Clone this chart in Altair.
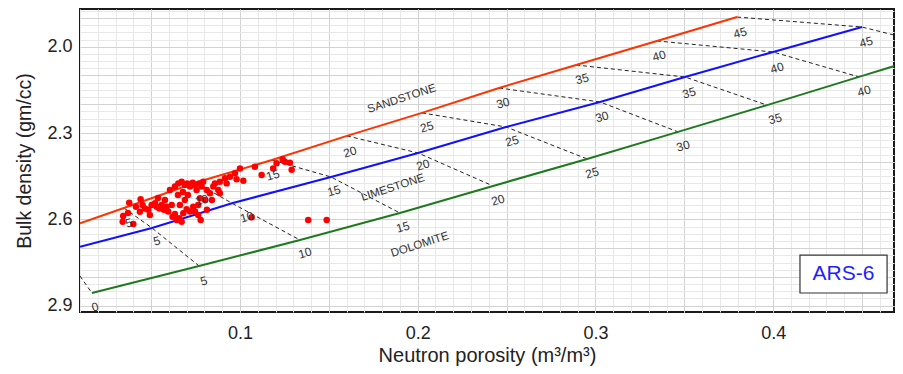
import altair as alt
import pandas as pd

# ---- lithology curves (neutron porosity m3/m3, bulk density g/cc) ----
ss_p = [0.010, 0.0347, 0.0752, 0.118, 0.1602, 0.2024, 0.2458, 0.2891, 0.3346, 0.3797]
ss_d = [2.614, 2.5605, 2.472, 2.394, 2.310, 2.230, 2.1435, 2.0636, 1.980, 1.897]
ls_p = [0.010, 0.0505, 0.0955, 0.1512, 0.2002, 0.2497, 0.3026, 0.3504, 0.4000, 0.4500]
ls_d = [2.695, 2.630, 2.544, 2.4527, 2.3693, 2.279, 2.1921, 2.1053, 2.0184, 1.9316]
dol_p = [0.0167, 0.077, 0.1338, 0.190, 0.2424, 0.2953, 0.3465, 0.3966, 0.4483, 0.470]
dol_d = [2.856, 2.762, 2.672, 2.578, 2.484, 2.390, 2.296, 2.203, 2.105, 2.0636]

# ends of the iso-porosity lines that leave the frame
iso0_start = [0.010, 2.797]
iso45_end = [0.4703, 1.963]

# ---- porosity labels along the curves ----
ss_lab = ["5", "10", "15", "20", "25", "30", "35", "40", "45"]
ss_lab_p = [0.0375, 0.0786, 0.1185, 0.1619, 0.2052, 0.2480, 0.2925, 0.3358, 0.3814]
ss_lab_d = [2.613, 2.533, 2.446, 2.366, 2.279, 2.196, 2.112, 2.032, 1.952]
ls_lab = ["5", "10", "15", "20", "25", "30", "35", "40", "45"]
ls_lab_p = [0.0533, 0.1039, 0.1529, 0.2030, 0.2531, 0.3037, 0.3527, 0.4022, 0.4523]
ls_lab_d = [2.675, 2.592, 2.501, 2.411, 2.328, 2.244, 2.161, 2.074, 1.984]
dol_lab = ["0", "5", "10", "15", "20", "25", "30", "35", "40"]
dol_lab_p = [0.0185, 0.0797, 0.1366, 0.1917, 0.2452, 0.2981, 0.3493, 0.4011, 0.4512]
dol_lab_d = [2.905, 2.814, 2.717, 2.627, 2.533, 2.439, 2.345, 2.251, 2.154]

lith_names = ["SANDSTONE", "LIMESTONE", "DOLOMITE"]
lith_lab_p = [0.1911, 0.1861, 0.2013]
lith_lab_d = [2.182, 2.491, 2.689]

# ---- well data (ARS-6) ----
nphi = [0.0343, 0.0340, 0.0377, 0.0400, 0.0441, 0.0415, 0.0452, 0.0465, 0.0484, 0.0503,
        0.0522, 0.0531, 0.0546, 0.0559, 0.0572, 0.0587, 0.0596, 0.0616, 0.0621, 0.0634,
        0.0644, 0.0658, 0.0672, 0.0634, 0.0653, 0.0672, 0.0690, 0.0703, 0.0719, 0.0734,
        0.0747, 0.0756, 0.0771, 0.0784, 0.0793, 0.0775, 0.0765, 0.0737, 0.0719, 0.0700,
        0.0681, 0.0747, 0.0765, 0.0779, 0.0813, 0.0831, 0.0850, 0.0859, 0.0878, 0.0887,
        0.0916, 0.0925, 0.0944, 0.0972, 0.0981, 0.1000, 0.1019, 0.1084, 0.1122, 0.1187,
        0.1206, 0.1240, 0.1253, 0.1281, 0.1291, 0.1066, 0.1384, 0.1488,
        0.0578, 0.0651, 0.0707, 0.0803, 0.0814, 0.0842, 0.0662, 0.0493, 0.0437, 0.0370,
        0.0606, 0.0690, 0.0887, 0.0679, 0.0539]
rhob = [2.588, 2.608, 2.542, 2.616, 2.530, 2.556, 2.550, 2.562, 2.567, 2.550,
        2.544, 2.556, 2.562, 2.550, 2.567, 2.556, 2.573, 2.550, 2.591, 2.581,
        2.602, 2.596, 2.608, 2.486, 2.475, 2.469, 2.481, 2.475, 2.486, 2.473,
        2.481, 2.498, 2.475, 2.486, 2.469, 2.527, 2.550, 2.556, 2.573, 2.565,
        2.579, 2.573, 2.585, 2.602, 2.498, 2.509, 2.486, 2.475, 2.498, 2.469,
        2.457, 2.475, 2.452, 2.440, 2.461, 2.423, 2.466, 2.417, 2.446, 2.423,
        2.405, 2.391, 2.400, 2.403, 2.428, 2.593, 2.602, 2.602,
        2.533, 2.515, 2.515, 2.533, 2.567, 2.533, 2.550, 2.585, 2.574, 2.578,
        2.498, 2.533, 2.509, 2.505, 2.526]

well_name = "ARS-6"
box_p = [0.4151, 0.4641]
box_d = [2.724, 2.856]

# ---- grid / tick positions ----
minor_x = [round(0.01 * i, 2) for i in range(1, 47)]
major_x = [round(0.05 * i, 2) for i in range(1, 10)]
minor_y = [round(1.875 + 0.025 * i, 3) for i in range(0, 42)]
major_y = [round(1.9 + 0.1 * i, 1) for i in range(0, 11)]

# ---- tables ----
lith_rows = []
for name, ps, ds in zip(lith_names, [ss_p, ls_p, dol_p], [ss_d, ls_d, dol_d]):
    for k, (p, d) in enumerate(zip(ps, ds)):
        lith_rows.append({"lith": name, "p": p, "d": d, "k": k})
lith_df = pd.DataFrame(lith_rows)

dash_rows = [{"phi": 0, "k": 0, "p": iso0_start[0], "d": iso0_start[1]},
             {"phi": 0, "k": 1, "p": dol_p[0], "d": dol_d[0]}]
for i in range(1, 9):
    phi = 5 * i
    dash_rows += [{"phi": phi, "k": 0, "p": ss_p[i], "d": ss_d[i]},
                  {"phi": phi, "k": 1, "p": ls_p[i], "d": ls_d[i]},
                  {"phi": phi, "k": 2, "p": dol_p[i], "d": dol_d[i]}]
dash_rows += [{"phi": 45, "k": 0, "p": ss_p[9], "d": ss_d[9]},
              {"phi": 45, "k": 1, "p": ls_p[9], "d": ls_d[9]},
              {"phi": 45, "k": 2, "p": iso45_end[0], "d": iso45_end[1]}]
dash_df = pd.DataFrame(dash_rows)

lab_df = pd.DataFrame({
    "t": ss_lab + ls_lab + dol_lab,
    "p": ss_lab_p + ls_lab_p + dol_lab_p,
    "d": ss_lab_d + ls_lab_d + dol_lab_d,
})
lith_lab_df = pd.DataFrame({"t": lith_names, "p": lith_lab_p, "d": lith_lab_d})
pts_df = pd.DataFrame({"p": nphi, "d": rhob})
box_df = pd.DataFrame({"p": [box_p[0]], "p2": [box_p[1]], "d": [box_d[0]], "d2": [box_d[1]],
                       "pc": [(box_p[0] + box_p[1]) / 2], "dc": [(box_d[0] + box_d[1]) / 2],
                       "t": [well_name]})

FONT = "Liberation Sans"
xs = alt.Scale(domain=[0.01, 0.468], nice=False, zero=False, clamp=False)
ys = alt.Scale(domain=[1.869, 2.922], reverse=True, nice=False, zero=False)

minor_x_axis = alt.Axis(orient="top", values=minor_x, grid=True, gridColor="#e8e8e8", gridWidth=1,
                        labels=False, ticks=False, domain=False, title=None)
minor_y_axis = alt.Axis(orient="right", values=minor_y, grid=True, gridColor="#e8e8e8", gridWidth=1,
                        labels=False, ticks=False, domain=False, title=None)
major_x_axis = alt.Axis(orient="bottom", values=major_x, grid=True, gridColor="#d2d2d2", gridWidth=1,
                        ticks=False, tickSize=0, domain=False, labelOverlap=False, labelFlush=False,
                        labelExpr="(round(datum.value*100) % 10 == 0) ? format(datum.value, '.1f') : ''",
                        labelFontSize=18, labelPadding=12, labelColor="#222",
                        title="Neutron porosity (m³/m³)", titleFontSize=20, titleFontWeight="normal",
                        titlePadding=3, titleColor="#222")
major_y_axis = alt.Axis(orient="left", values=major_y, grid=True, gridColor="#d2d2d2", gridWidth=1,
                        ticks=False, tickSize=0, domain=False, labelOverlap=False, labelFlush=False,
                        labelExpr="indexof(['2.0','2.3','2.6','2.9'], format(datum.value, '.1f')) >= 0 ? format(datum.value, '.1f') : ''",
                        labelFontSize=18, labelPadding=8, labelColor="#222",
                        title="Bulk density (gm/cc)", titleFontSize=19.5, titleFontWeight="normal",
                        titlePadding=12, titleColor="#222")

dash = alt.Chart(dash_df).mark_line(color="#222222", strokeWidth=1, strokeDash=[4, 3], clip=True).encode(
    x=alt.X("p:Q", scale=xs, axis=minor_x_axis),
    y=alt.Y("d:Q", scale=ys, axis=minor_y_axis),
    detail="phi:N",
    order="k:Q",
)

lith = alt.Chart(lith_df).mark_line(strokeWidth=2, clip=True).encode(
    x=alt.X("p:Q", scale=xs, axis=major_x_axis),
    y=alt.Y("d:Q", scale=ys, axis=major_y_axis),
    color=alt.Color("lith:N", scale=alt.Scale(domain=lith_names, range=["#ff3300", "#1010ff", "#1e7a1e"]),
                    legend=None),
    order="k:Q",
)

pts = alt.Chart(pts_df).mark_circle(color="#ff0000", size=42, opacity=1).encode(
    x=alt.X("p:Q", scale=xs, axis=None),
    y=alt.Y("d:Q", scale=ys, axis=None),
)

labels = alt.Chart(lab_df).mark_text(font=FONT, fontSize=12, color="#333333", angle=344).encode(
    x=alt.X("p:Q", scale=xs, axis=None),
    y=alt.Y("d:Q", scale=ys, axis=None),
    text="t:N",
)

lith_labels = alt.Chart(lith_lab_df).mark_text(font=FONT, fontSize=11.5, color="#333333", angle=342).encode(
    x=alt.X("p:Q", scale=xs, axis=None),
    y=alt.Y("d:Q", scale=ys, axis=None),
    text="t:N",
)

box = alt.Chart(box_df).mark_rect(fill="white", stroke="#333333", strokeWidth=1.2).encode(
    x=alt.X("p:Q", scale=xs, axis=None), x2="p2:Q",
    y=alt.Y("d:Q", scale=ys, axis=None), y2="d2:Q",
)
box_text = alt.Chart(box_df).mark_text(font=FONT, fontSize=21, color="#1f1fff").encode(
    x=alt.X("pc:Q", scale=xs, axis=None),
    y=alt.Y("dc:Q", scale=ys, axis=None),
    text="t:N",
)

chart = alt.layer(dash, lith, pts, labels, lith_labels, box, box_text).resolve_axis(
    x="independent", y="independent"
).properties(
    width=814, height=303,
    padding={"left": 72, "top": 1, "right": 1, "bottom": 54},
    autosize=alt.AutoSizeParams(type="none"),
).configure_view(stroke="#1a1a1a", strokeWidth=2).configure_axis(
    labelFont=FONT, titleFont=FONT
)

chart.save("out.html", embed_options={"renderer": "svg", "actions": False})
